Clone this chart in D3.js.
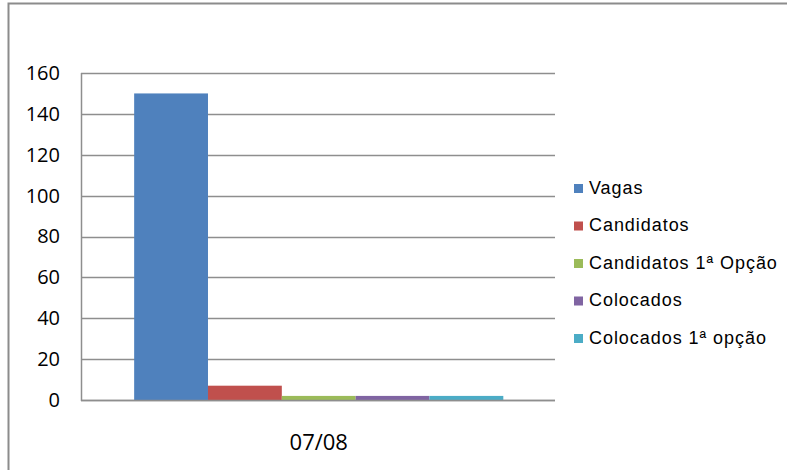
<!DOCTYPE html>
<html><head><meta charset="utf-8">
<script src="https://cdn.jsdelivr.net/npm/d3@7"></script>
<style>
html,body{margin:0;padding:0;background:#fff;}
svg{display:block;}
.ax text{font-family:"Open Sans", Lato, sans-serif; font-size:20px; fill:#000;}
.ax.xa text{font-size:22px;}
.lg text{font-family:"Liberation Sans", Arial, sans-serif; font-size:18px; fill:#000; letter-spacing:0.95px;}
</style></head>
<body>
<svg id="chart" width="787" height="470"></svg>
<script>
const categories = ["07/08"];
const seriesNames = ["Vagas", "Candidatos", "Candidatos 1ª Opção", "Colocados", "Colocados 1ª opção"];
const seriesValues = [150, 7, 2, 2, 2];
const seriesColors = ["#4F81BD", "#C0504D", "#9BBB59", "#8064A2", "#4BACC6"];
const yTicks = [0, 20, 40, 60, 80, 100, 120, 140, 160];

(function () {
const svg = d3.select("#chart");
const pLeft = 81, pRight = 555, pTop = 73, pBottom = 400;

svg.append("path")
  .attr("d", `M8.5,471 L8.5,3.5 L788,3.5`)
  .attr("fill", "none").attr("stroke", "#8c8c8c").attr("stroke-width", 2);

const y = d3.scaleLinear().domain([0, 160]).range([pBottom, pTop]);
const x0 = d3.scaleBand().domain(categories).range([pLeft, pRight]).paddingOuter(0.142).align(0.507);
const x1 = d3.scaleBand().domain(seriesNames).range([0, x0.bandwidth()]).padding(0);

svg.append("g").selectAll("line").data(yTicks).join("line")
  .attr("x1", pLeft).attr("x2", pRight)
  .attr("y1", d => Math.round(y(d)) + 0.5).attr("y2", d => Math.round(y(d)) + 0.5)
  .attr("stroke", "#8e8e8e").attr("stroke-width", 1.5);

const g = svg.append("g");
categories.forEach(cat => {
  g.selectAll("rect.b").data(seriesNames.map((s, i) => ({s, v: seriesValues[i], c: seriesColors[i]})))
    .join("rect")
    .attr("class", "b")
    .attr("x", d => x0(cat) + x1(d.s))
    .attr("width", x1.bandwidth())
    .attr("y", d => y(d.v))
    .attr("height", d => y(0) - y(d.v))
    .attr("fill", d => d.c);
});

svg.append("line").attr("x1", pLeft + 0.5).attr("x2", pLeft + 0.5).attr("y1", pTop).attr("y2", pBottom + 1)
  .attr("stroke", "#8e8e8e").attr("stroke-width", 1.5);
svg.append("line").attr("x1", pLeft).attr("x2", pRight).attr("y1", Math.round(y(0)) + 0.5).attr("y2", Math.round(y(0)) + 0.5)
  .attr("stroke", "#8e8e8e").attr("stroke-width", 1.5);

const yAxis = svg.append("g").attr("class", "ax").attr("transform", `translate(${pLeft},0)`)
  .call(d3.axisLeft(y).tickValues(yTicks).tickSize(0).tickPadding(21));
yAxis.select(".domain").remove();
yAxis.attr("font-family", null).attr("font-size", null);

const xAxis = svg.append("g").attr("class", "ax xa").attr("transform", `translate(0,${pBottom})`)
  .call(d3.axisBottom(x0).tickSize(0).tickPadding(34));
xAxis.select(".domain").remove();
xAxis.attr("font-family", null).attr("font-size", null);

const leg = svg.append("g").attr("class", "lg");
const legItems = leg.selectAll("g").data(seriesNames).join("g")
  .attr("transform", (d, i) => `translate(574,${184 + i * 37.5})`);
legItems.append("rect").attr("width", 9).attr("height", 9).attr("fill", (d, i) => seriesColors[i]);
legItems.append("text").attr("x", 15).attr("y", 9.5).text(d => d);
})();
</script>
</body></html>
